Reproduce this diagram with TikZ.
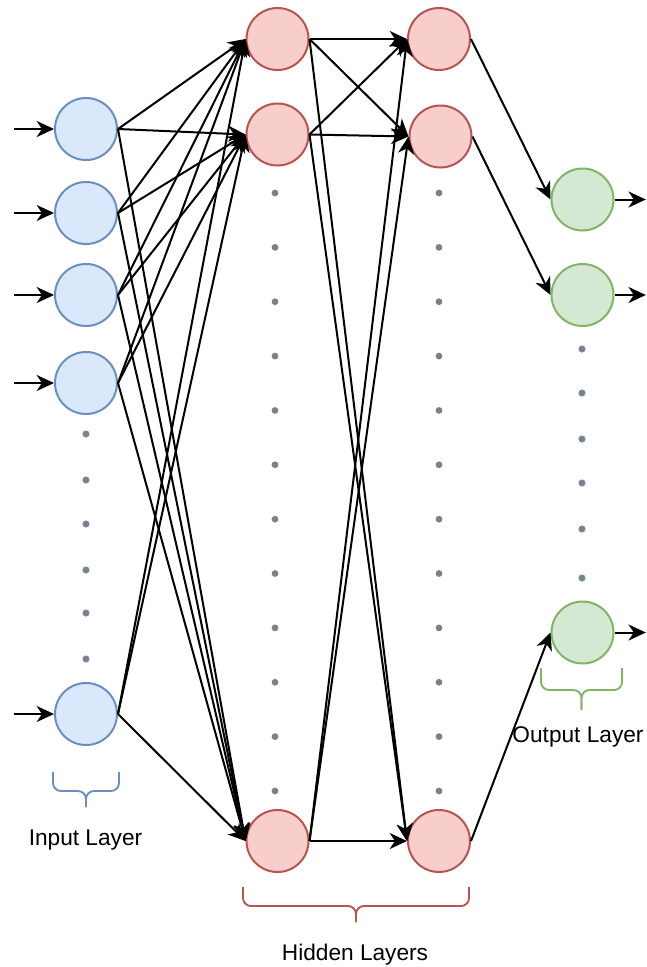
\documentclass[tikz,border=0pt]{standalone}
\usepackage{fontspec}
\setmainfont{Liberation Sans}
\usetikzlibrary{positioning,arrows.meta}

\definecolor{infill}{HTML}{DAE8FC}
\definecolor{inline}{HTML}{6C8EBF}
\definecolor{hidfill}{HTML}{F8CECC}
\definecolor{hidline}{HTML}{B85450}
\definecolor{outfill}{HTML}{D5E8D4}
\definecolor{outline}{HTML}{82B366}
\definecolor{dotgray}{HTML}{808080}

\begin{document}
\begin{tikzpicture}[x=0.75pt, y=-0.75pt, thick]
% Definition of blocks:
\tikzset{%
  neuron/.style   = {circle, line width=1.5pt, minimum size=46.5pt, inner sep=0pt},
  innode/.style   = {neuron, draw=inline, fill=infill},
  hidnode/.style  = {neuron, draw=hidline, fill=hidfill},
  outnode/.style  = {neuron, draw=outline, fill=outfill},
  input/.style    = {coordinate}, % Input
  output/.style   = {coordinate}, % Output
  link/.style     = {-{Stealth[length=13pt, width=12pt, inset=4pt]}, line width=1.5pt},
  brace/.style    = {line width=1.4pt, rounded corners=6pt},
  label/.style    = {font=\fontsize{17}{20}\selectfont, anchor=base}
}
\useasboundingbox (0,0) rectangle (646,967);

\draw
	node [innode] (in1) at (86,129) {}
	node [innode] (in2) at (86,213) {}
	node [innode] (in3) at (86,295) {}
	node [innode] (in4) at (86,383) {}
	node [innode] (in5) at (86,714) {}
	node [hidnode] (h1a) at (277.5,39) {}
	node [hidnode] (h1b) at (277.5,134.5) {}
	node [hidnode] (h1c) at (277.5,841) {}
	node [hidnode] (h2a) at (439,39) {}
	node [hidnode] (h2b) at (440.5,136.5) {}
	node [hidnode] (h2c) at (439,841) {}
	node [outnode] (out1) at (582.5,199.5) {}
	node [outnode] (out2) at (582.5,295) {}
	node [outnode] (out3) at (582.5,632.5) {};

% inputs and outputs
\foreach \n in {1,...,5}
	\draw node [input, left = 30pt of in\n] (x\n) {};
\foreach \n in {1,2,3}
	\draw node [output, right = 23.5pt of out\n] (y\n) {};
\foreach \n in {1,...,5}
	\draw[link] (x\n) -- (in\n);
\foreach \n in {1,2,3}
	\draw[link] (out\n) -- (y\n);

% weights
\foreach \i in {in1,in2,in3,in4,in5}
	\foreach \h in {h1a,h1b,h1c}
		\draw[link] (\i.east) -- (\h.west);
\foreach \i in {h1a,h1b,h1c}
	\foreach \h in {h2a,h2b,h2c}
		\draw[link] (\i.east) -- (\h.west);
\draw[link] (h2a.east) -- (out1.west);
\draw[link] (h2b.east) -- (out2.west);
\draw[link] (h2c.east) -- (out3.west);

% dots
\foreach \y in {434,480,524,570,613,659}
	\filldraw[fill=dotgray, draw=inline, line width=0.5pt] (86,\y) circle (3.2);
\foreach \y in {349,393,439,483,529,578}
	\filldraw[fill=dotgray, draw=inline, line width=0.5pt] (582,\y) circle (3.2);
\foreach \k in {0,...,11} {
	\fill[dotgray] (275,193+54.36*\k) circle (3.4);
	\fill[dotgray] (439,193+54.36*\k) circle (3.4);
}

% braces
\draw[brace, inline] (53,772) |- (86,791) -- (86,807);
\draw[brace, inline] (119,772) |- (86,791) -- (86,807);
\draw[brace, hidline] (243,887) |- (356,906) -- (356,922);
\draw[brace, hidline] (469,887) |- (356,906) -- (356,922);
\draw[brace, outline] (541,668) |- (581.5,690) -- (581.5,710);
\draw[brace, outline] (622,668) |- (581.5,690) -- (581.5,710);

\node[label] (inlabel) at (85.5,845) {Input Layer};
\node[label] (hidlabel) at (355,960) {Hidden Layers};
\node[label] (outlabel) at (578,742) {Output Layer};
%
\end{tikzpicture}
\end{document}
